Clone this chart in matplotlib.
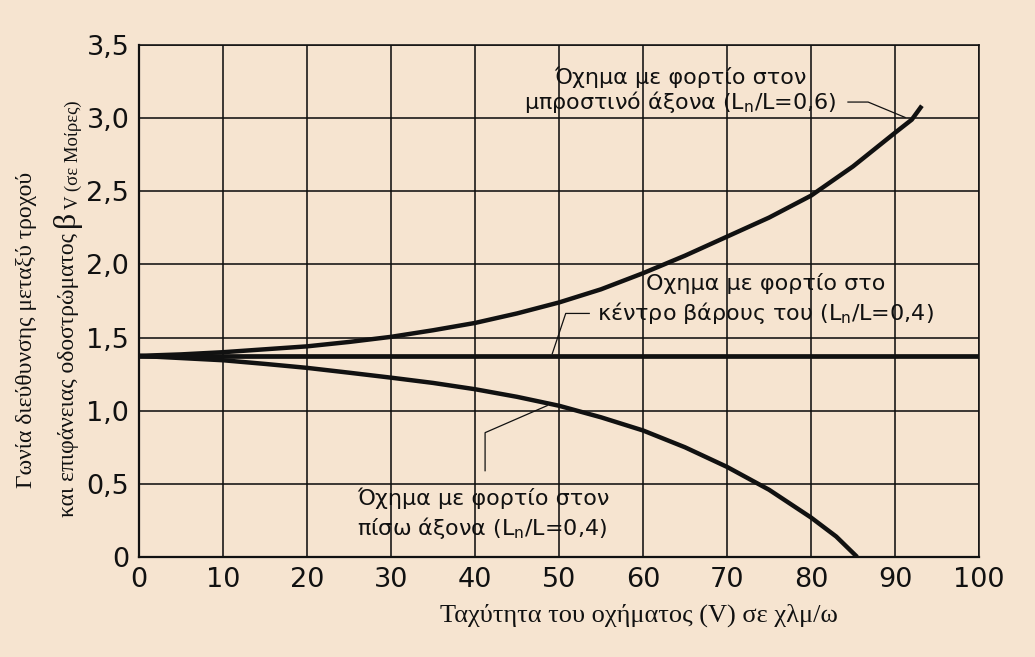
import numpy as np
import matplotlib.pyplot as plt

speed_front = [0, 5, 10, 15, 20, 25, 30, 35, 40, 45, 50, 55, 60, 65, 70, 75, 80, 85, 90, 92, 93.2]
angle_front = [1.375, 1.385, 1.40, 1.42, 1.44, 1.47, 1.505, 1.55, 1.60, 1.665, 1.74,
               1.83, 1.94, 2.06, 2.19, 2.32, 2.47, 2.67, 2.90, 2.99, 3.085]

speed_centre = [0, 100]
angle_centre = [1.375, 1.375]

speed_rear = [0, 5, 10, 15, 20, 25, 30, 35, 40, 45, 50, 55, 60, 65, 70, 75, 80, 83, 85.5]
angle_rear = [1.375, 1.36, 1.345, 1.32, 1.293, 1.26, 1.226, 1.19, 1.147, 1.095, 1.034,
              0.955, 0.865, 0.75, 0.616, 0.46, 0.27, 0.14, 0.0]

x_ticks = [0, 10, 20, 30, 40, 50, 60, 70, 80, 90, 100]
y_ticks = [0, 0.5, 1.0, 1.5, 2.0, 2.5, 3.0, 3.5]
y_tick_labels = ["0", "0,5", "1,0", "1,5", "2,0", "2,5", "3,0", "3,5"]

label_front = "Όχημα με φορτίο στον\nμπροστινό άξονα (L$_\\mathregular{n}$/L=0,6)"
label_centre = "Οχημα με φορτίο στο\nκέντρο βάρους του (L$_\\mathregular{n}$/L=0,4)"
label_rear = "Όχημα με φορτίο στον\nπίσω άξονα (L$_\\mathregular{n}$/L=0,4)"

# leader lines from the labels to the curves
leader_front_x = [84.4, 86.8, 91.2]
leader_front_y = [3.11, 3.11, 3.005]
leader_centre_x = [53.6, 50.8, 49.2]
leader_centre_y = [1.665, 1.665, 1.39]
leader_rear_x = [41.2, 41.2, 48.6]
leader_rear_y = [0.59, 0.85, 1.035]

x_title = "Ταχύτητα του οχήματος (V) σε χλμ/ω"
y_title_1 = "Γωνία διεύθυνσης μεταξύ τροχού"
y_title_2 = "και επιφάνειας οδοστρώματος "
y_symbol = "β"
y_symbol_sub = "V (σε Μοίρες)"

bg = "#f6e4d0"
ink = "#111111"

fig = plt.figure(figsize=(10.35, 6.57), dpi=100, facecolor=bg)
ax = fig.add_axes([0.1343, 0.1522, 0.8116, 0.7793], facecolor=bg)

ax.set_xlim(0, 100)
ax.set_ylim(0, 3.5)
ax.set_xticks(x_ticks)
ax.set_yticks(y_ticks)
ax.set_yticklabels(y_tick_labels)
ax.grid(True, color=ink, linewidth=1.15)
ax.set_axisbelow(True)

for side in ["top", "right"]:
    ax.spines[side].set_linewidth(1.15)
    ax.spines[side].set_color(ink)
for side in ["left", "bottom"]:
    ax.spines[side].set_linewidth(1.6)
    ax.spines[side].set_color(ink)

ax.tick_params(length=0, labelsize=19.5, colors=ink, pad=7)
for lab in ax.get_xticklabels() + ax.get_yticklabels():
    lab.set_family("DejaVu Sans")

# curves
ax.plot(speed_centre, angle_centre, color=ink, linewidth=3.4, solid_capstyle="butt")
ax.plot(speed_front, angle_front, color=ink, linewidth=3.2, solid_capstyle="butt")
ax.plot(speed_rear, angle_rear, color=ink, linewidth=3.2, solid_capstyle="butt")

# leaders
for lx, ly in [(leader_front_x, leader_front_y),
               (leader_centre_x, leader_centre_y),
               (leader_rear_x, leader_rear_y)]:
    ax.plot(lx, ly, color=ink, linewidth=0.9)

txt = dict(fontsize=16, color=ink, family="DejaVu Sans", va="center")
ax.text(64.4, 3.19, label_front, ha="center", multialignment="center",
        linespacing=1.05, **txt)
ax.text(74.6, 1.76, label_centre, ha="center", multialignment="center",
        linespacing=1.3, **txt)
ax.text(26.0, 0.29, label_rear, ha="left", multialignment="left",
        linespacing=1.3, **txt)

serif = dict(family="Liberation Serif", color=ink)
fig.text(0.617, 0.064, x_title, ha="center", va="center", fontsize=19, **serif)

# rotated y title, built up piece by piece along one baseline
rot = dict(rotation=90, rotation_mode="anchor", ha="left", va="baseline", **serif)
fig.text(0.0305, 1 - 488 / 657, y_title_1, fontsize=17, **rot)

renderer = fig.canvas.get_renderer()
H = fig.bbox.height
base_x = 0.0715
t_main = fig.text(base_x, 1 - 517 / 657, y_title_2, fontsize=17, **rot)
top = t_main.get_window_extent(renderer).y1 / H
t_beta = fig.text(base_x, top, y_symbol, fontsize=23, **rot)
top = t_beta.get_window_extent(renderer).y1 / H
fig.text(base_x + 4 / fig.bbox.width, top + 2 / H, y_symbol_sub, fontsize=13.5, **rot)

fig.savefig("out.png", dpi=100, facecolor=bg)
